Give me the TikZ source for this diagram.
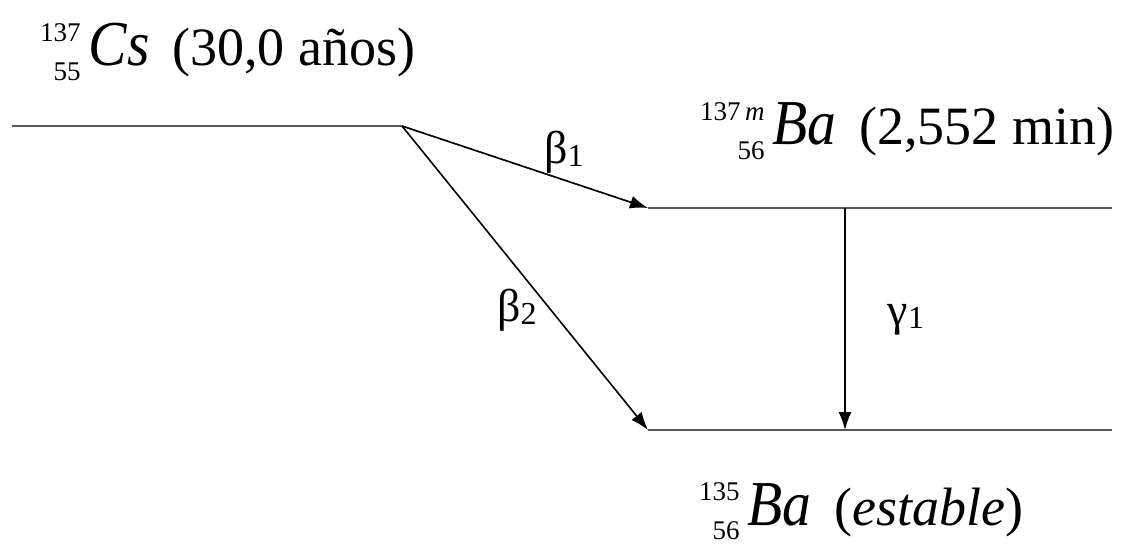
\documentclass[tikz,border=0pt]{standalone}
\usepackage{fontspec}
\setmainfont{Liberation Serif}
\usetikzlibrary{arrows.meta}

% nucleus: mass number, atomic number, symbol
\newcommand\nucl[3]{%
  {\fontsize{27}{27}\selectfont\raisebox{0.9em}{#1}\llap{\raisebox{-0.55em}{#2}}}%
  \hspace{8pt}\scalebox{0.9}[1]{\fontsize{64}{64}\selectfont\textit{#3}}}
\newcommand\trans[2]{%
  {\fontsize{46}{46}\selectfont #1}{\fontsize{32}{32}\selectfont\raisebox{-0.1em}{#2}}}

\begin{document}
\begin{tikzpicture}[x=1pt,y=-1pt,>={Latex[length=18pt,width=13pt]}]
  \useasboundingbox (0,0) rectangle (1133,548);
  \tikzset{
    level/.style={draw=black!65, line width=2.2pt},
    decay/.style={->, line width=1.6pt},
    tag/.style={inner sep=0pt, anchor=base west, font=\fontsize{54}{60}\selectfont}
  }
  % ---- levels ----
  \coordinate (csL) at (12,126);
  \coordinate (csR) at (402,126);
  \coordinate (bamL) at (648,208);
  \coordinate (bamR) at (1112,208);
  \coordinate (bagL) at (648,430);
  \coordinate (bagR) at (1112,430);
  \coordinate (gtop) at (845,208);
  \coordinate (gbot) at (845,430);
  \draw[level] (csL) -- (csR);
  \draw[level] (bamL) -- (bamR);
  \draw[level] (bagL) -- (bagR);
  % ---- transitions ----
  \draw[decay] (csR) -- (bamL);
  \draw[decay] (csR) -- (bagL);
  \draw[decay] (gtop) -- (gbot);
  \node[inner sep=0pt] (b1) at (564,152) {\trans{β}{1}};
  \node[inner sep=0pt] (b2) at (517,310) {\trans{β}{2}};
  \node[inner sep=0pt] (g1) at (906,320) {\trans{γ}{1}};
  % ---- nuclei ----
  \node[tag] (cs) at (40,66) {\nucl{137}{55}{Cs}\hspace{0.42em}(30,0 años)};
  \node[tag] (bam) at (700,145) {\nucl{137\,\textit{m}}{56}{Ba}\hspace{0.42em}(2,552 min)};
  \node[tag] (bag) at (699,525) {\nucl{135}{56}{Ba}\hspace{0.42em}(\textit{estable})};
\end{tikzpicture}
\end{document}
